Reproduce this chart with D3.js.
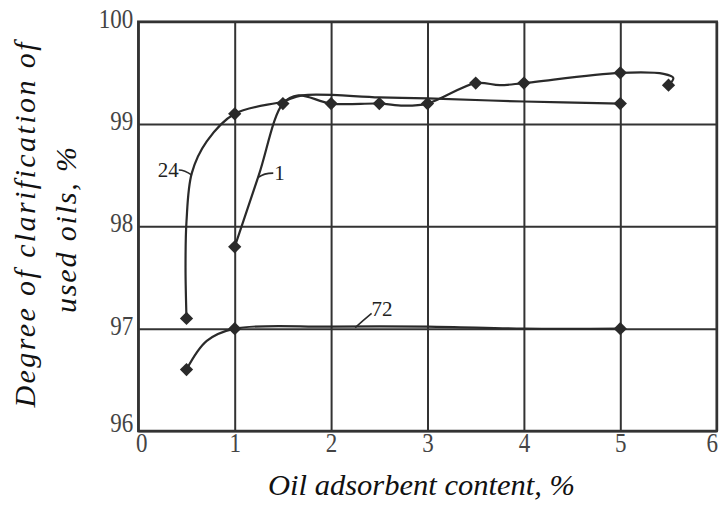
<!DOCTYPE html>
<html>
<head>
<meta charset="utf-8">
<script src="https://cdn.jsdelivr.net/npm/d3@7"></script>
<style>
  html, body { margin: 0; padding: 0; background: #fff; }
  svg { display: block; }
</style>
</head>
<body>
<div id="chart"></div>
<script>
// ---------- data ----------
const xTicks = [0, 1, 2, 3, 4, 5, 6];
const yTicks = [96, 97, 98, 99, 100];

// measured points (diamond markers)
const markers1  = [[1, 97.8], [1.5, 99.2], [2, 99.2], [2.5, 99.2], [3, 99.2], [3.5, 99.4], [4, 99.4], [5, 99.5], [5.5, 99.38]];
const markers24 = [[0.5, 97.1], [1, 99.1], [5, 99.2]];
const markers72 = [[0.5, 96.6], [1, 97.0], [5, 97.0]];

// hand-drawn curves, points
const curve1  = [[1, 97.8], [1.25, 98.5], [1.5, 99.2], [1.66, 99.28], [2, 99.2], [2.5, 99.2], [2.75, 99.18], [3, 99.2], [3.5, 99.4], [3.75, 99.38], [4, 99.4], [5, 99.5], [5.45, 99.49], [5.55, 99.45], [5.5, 99.38]];
const curve24 = [[0.5, 97.1], [0.49, 97.6], [0.5, 98.05], [0.555, 98.52], [0.71, 98.83], [1, 99.1], [1.5, 99.22], [1.7, 99.28], [2.5, 99.26], [3, 99.25], [4, 99.22], [5, 99.2]];
const curve72 = [[0.5, 96.6], [0.71, 96.88], [1, 97.0], [2, 97.02], [3, 97.02], [4, 97.0], [5, 97.0]];

const curveLabels = ["1", "24", "72"];
const xTitle = "Oil adsorbent content, %";
const yTitle = ["Degree of clarification of", "used oils, %"];

// ---------- drawing ----------
const W = 722, H = 506;
const mLeft = 138.3, mRight = 716.7, mTop = 21.7, mBottom = 431;
const ink = "#2a2a2a";
const font = "'Liberation Serif', 'Times New Roman', serif";

const svg = d3.select("#chart").append("svg")
  .attr("width", W).attr("height", H)
  .style("background", "#fff");

const x = d3.scaleLinear().domain([0, 6]).range([mLeft, mRight]);
const y = d3.scaleLinear().domain([96, 100]).range([mBottom, mTop]);

// grid + tick labels via axes
const xAxis = d3.axisBottom(x).tickValues(xTicks).tickSize(-(mBottom - mTop)).tickPadding(2).tickFormat(d3.format("d"));
const yAxis = d3.axisLeft(y).tickValues(yTicks).tickSize(-(mRight - mLeft)).tickPadding(5).tickFormat(d3.format("d"));

const gx = svg.append("g").attr("transform", `translate(0,${mBottom})`).call(xAxis);
const gy = svg.append("g").attr("transform", `translate(${mLeft},0)`).call(yAxis);

[gx, gy].forEach(g => {
  g.select(".domain").remove();
  g.selectAll(".tick line").attr("stroke", "#333").attr("stroke-width", 2);
  g.selectAll(".tick text")
    .attr("fill", "#444")
    .style("font-family", font)
    .style("font-size", "27px")
    .attr("textLength", function () { return 11.5 * this.textContent.length; })
    .attr("lengthAdjust", "spacingAndGlyphs");
});
const nX = xTicks.length;
gx.selectAll(".tick text").attr("dy", "0.72em")
  .attr("dx", (d, i) => i === 0 ? 3 : (i === nX - 1 ? -5 : 0));
gy.selectAll(".tick text").attr("dy", (d, i) => i === 0 ? "0.02em" : "0.2em");

// frame
svg.append("rect")
  .attr("x", mLeft).attr("y", mTop)
  .attr("width", mRight - mLeft).attr("height", mBottom - mTop)
  .attr("fill", "none").attr("stroke", "#333").attr("stroke-width", 2.5);

// curves
const line = d3.line()
  .x(d => x(d[0])).y(d => y(d[1]))
  .curve(d3.curveCatmullRom.alpha(0.5));

[curve1, curve24, curve72].forEach(c => {
  svg.append("path")
    .datum(c)
    .attr("d", line)
    .attr("fill", "none")
    .attr("stroke", ink)
    .attr("stroke-width", 2.2);
});

// diamond markers
const diamond = d3.symbol().type(d3.symbolSquare).size(88);
[markers1, markers24, markers72].forEach(m => {
  svg.append("g").selectAll("path")
    .data(m)
    .join("path")
    .attr("d", diamond)
    .attr("transform", d => `translate(${x(d[0])},${y(d[1])}) rotate(45)`)
    .attr("fill", ink);
});

// curve labels with leader strokes
const labelStyle = sel => sel
  .style("font-family", font)
  .style("font-size", "21px")
  .attr("fill", "#222");

// "24"
svg.append("path")
  .attr("d", `M${x(0.42)},${y(98.55)} Q${x(0.48)},${y(98.55)} ${x(0.555)},${y(98.5)}`)
  .attr("fill", "none").attr("stroke", ink).attr("stroke-width", 1.6);
svg.append("text").call(labelStyle)
  .attr("x", x(0.42)).attr("y", y(98.55)).attr("dy", "0.35em")
  .attr("text-anchor", "end").text(curveLabels[1]);

// "1"
svg.append("path")
  .attr("d", `M${x(1.25)},${y(98.48)} Q${x(1.3)},${y(98.52)} ${x(1.4)},${y(98.52)}`)
  .attr("fill", "none").attr("stroke", ink).attr("stroke-width", 1.6);
svg.append("text").call(labelStyle)
  .attr("x", x(1.41)).attr("y", y(98.52)).attr("dy", "0.35em")
  .text(curveLabels[0]);

// "72"
svg.append("path")
  .attr("d", `M${x(2.25)},${y(97.01)} Q${x(2.33)},${y(97.08)} ${x(2.42)},${y(97.15)}`)
  .attr("fill", "none").attr("stroke", ink).attr("stroke-width", 1.6);
svg.append("text").call(labelStyle)
  .attr("x", x(2.42)).attr("y", y(97.12))
  .text(curveLabels[2]);

// axis titles
svg.append("text")
  .attr("x", (268 + 575) / 2).attr("y", 495)
  .attr("text-anchor", "middle")
  .attr("textLength", 307).attr("lengthAdjust", "spacingAndGlyphs")
  .style("font-family", font).style("font-style", "italic").style("font-size", "30px")
  .attr("fill", "#111")
  .text(xTitle);

svg.append("text")
  .attr("transform", `translate(35,225) rotate(-90)`)
  .attr("text-anchor", "middle")
  .attr("textLength", 365).attr("lengthAdjust", "spacing")
  .style("font-family", font).style("font-style", "italic").style("font-size", "30px")
  .attr("fill", "#111")
  .text(yTitle[0]);

svg.append("text")
  .attr("transform", `translate(76,230) rotate(-90)`)
  .attr("text-anchor", "middle")
  .attr("textLength", 166).attr("lengthAdjust", "spacing")
  .style("font-family", font).style("font-style", "italic").style("font-size", "30px")
  .attr("fill", "#111")
  .text(yTitle[1]);
</script>
</body>
</html>
